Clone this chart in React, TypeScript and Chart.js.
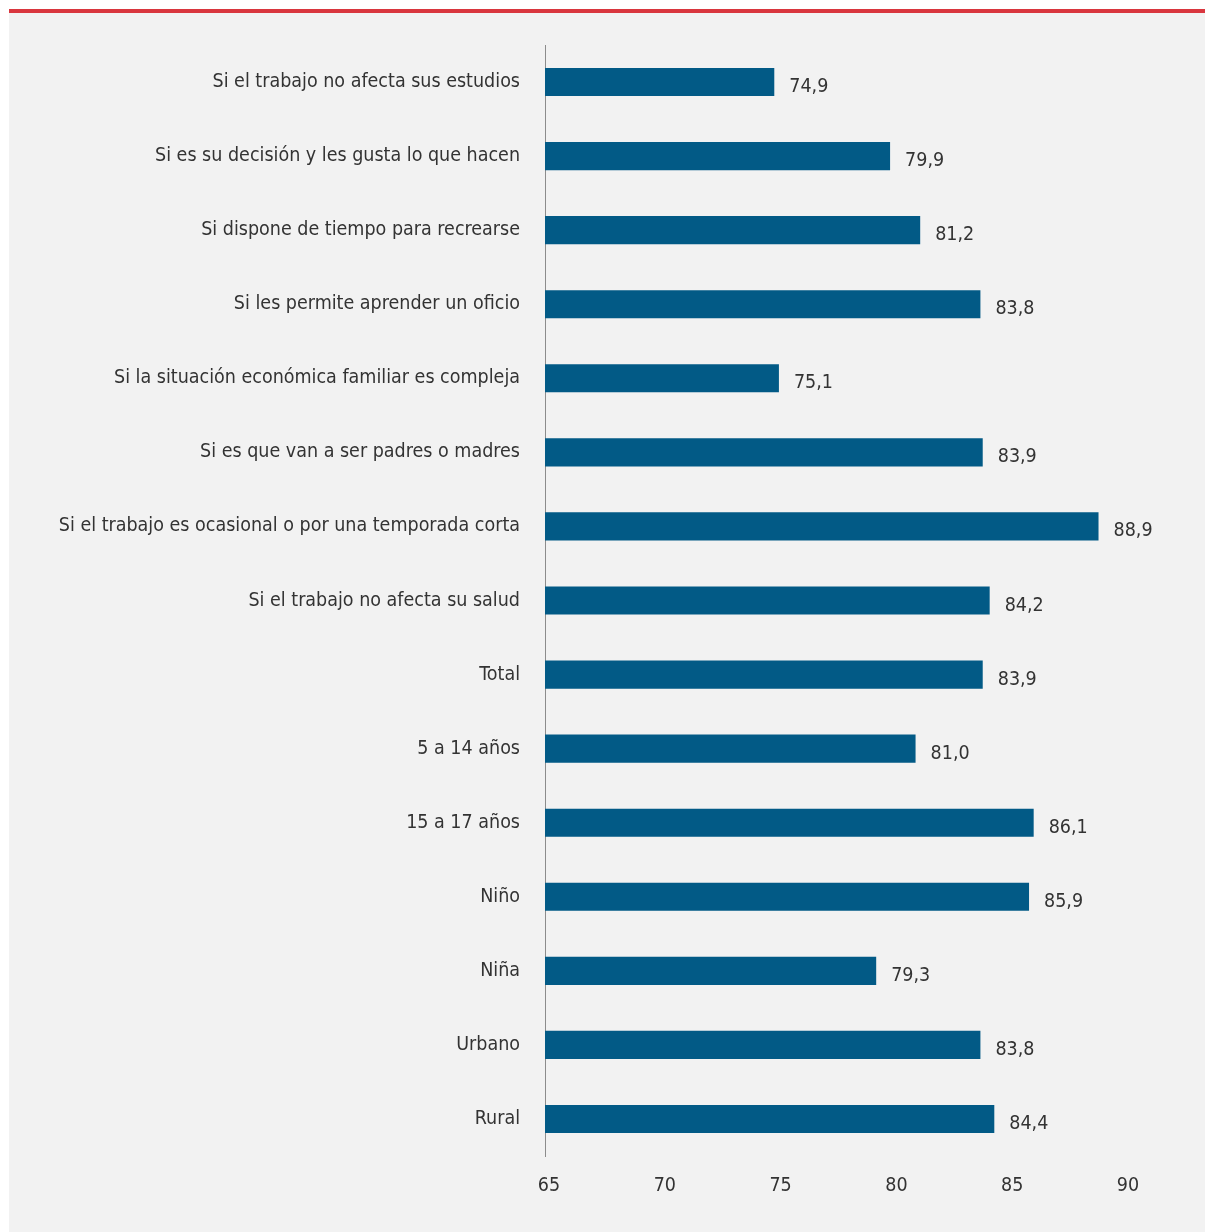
import React, { useEffect, useRef } from "react";
import { Chart, registerables } from "chart.js";

Chart.register(...registerables);

const categories: string[] = [
  "Si el trabajo no afecta sus estudios",
  "Si es su decisión y les gusta lo que hacen",
  "Si dispone de tiempo para recrearse",
  "Si les permite aprender un oficio",
  "Si la situación económica familiar es compleja",
  "Si es que van a ser padres o madres",
  "Si el trabajo es ocasional o por una temporada corta",
  "Si el trabajo no afecta su salud",
  "Total",
  "5 a 14 años",
  "15 a 17 años",
  "Niño",
  "Niña",
  "Urbano",
  "Rural",
];

const values: number[] = [74.9, 79.9, 81.2, 83.8, 75.1, 83.9, 88.9, 84.2, 83.9, 81.0, 86.1, 85.9, 79.3, 83.8, 84.4];

const xTicks: number[] = [65, 70, 75, 80, 85, 90];

const FONT = "'DejaVu Sans Condensed', 'Liberation Sans Narrow', sans-serif";
const FSIZE = 19.5;
const TEXT = "#333333";
const BAR = "#025a86";

const valueLabels = {
  id: "valueLabels",
  afterDatasetsDraw(chart: any) {
    const ctx = chart.ctx;
    const meta = chart.getDatasetMeta(0);
    ctx.save();
    ctx.font = `${FSIZE}px ${FONT}`;
    ctx.fillStyle = TEXT;
    ctx.textAlign = "left";
    ctx.textBaseline = "middle";
    meta.data.forEach((bar: any, i: number) => {
      const txt = values[i].toFixed(1).replace(".", ",");
      ctx.fillText(txt, bar.x + 15, bar.y + 5);
    });
    ctx.restore();
  },
};

function BarChart() {
  const ref = useRef<HTMLCanvasElement | null>(null);
  useEffect(() => {
    if (!ref.current) return;
    const chart = new Chart(ref.current, {
      type: "bar",
      data: {
        labels: categories,
        datasets: [
          {
            data: values,
            backgroundColor: BAR,
            borderWidth: 0,
            barPercentage: 0.76,
            categoryPercentage: 0.5,
          },
        ],
      },
      options: {
        indexAxis: "y",
        animation: false,
        responsive: false,
        maintainAspectRatio: false,
        layout: { padding: { left: 0, right: 81, top: 45, bottom: 0 } },
        plugins: {
          legend: { display: false },
          tooltip: { enabled: false },
        },
        scales: {
          x: {
            min: 65,
            max: 90,
            afterBuildTicks: (scale: any) => {
              scale.ticks = xTicks.map((v) => ({ value: v }));
            },
            afterFit: (scale: any) => {
              scale.height = 1232 - 1156;
            },
            grid: { display: false, drawTicks: false },
            border: { display: false },
            ticks: {
              padding: 18,
              labelOffset: 4,
              color: TEXT,
              font: { family: FONT, size: FSIZE },
            },
          },
          y: {
            afterFit: (scale: any) => {
              scale.width = 545;
            },
            grid: { display: false, drawTicks: false },
            border: { display: true, color: "#8c8c8c", width: 1 },
            ticks: {
              padding: 25,
              color: TEXT,
              font: { family: FONT, size: FSIZE },
            },
          },
        },
      },
      plugins: [valueLabels],
    });
    return () => chart.destroy();
  }, []);
  return <canvas ref={ref} width={1205} height={1232} style={{ position: "absolute", left: 0, top: 0 }} />;
}

export default function App() {
  useEffect(() => {
    document.body.style.margin = "0";
  }, []);
  return (
    <div style={{ position: "absolute", left: 0, top: 0, width: 1205, height: 1232, background: "#ffffff", overflow: "hidden" }}>
      <div style={{ position: "absolute", left: 9, top: 13, width: 1196, height: 1219, background: "#f2f2f2" }} />
      <div style={{ position: "absolute", left: 9, top: 9, width: 1196, height: 4, background: "#d9363e" }} />
      <BarChart />
    </div>
  );
}
